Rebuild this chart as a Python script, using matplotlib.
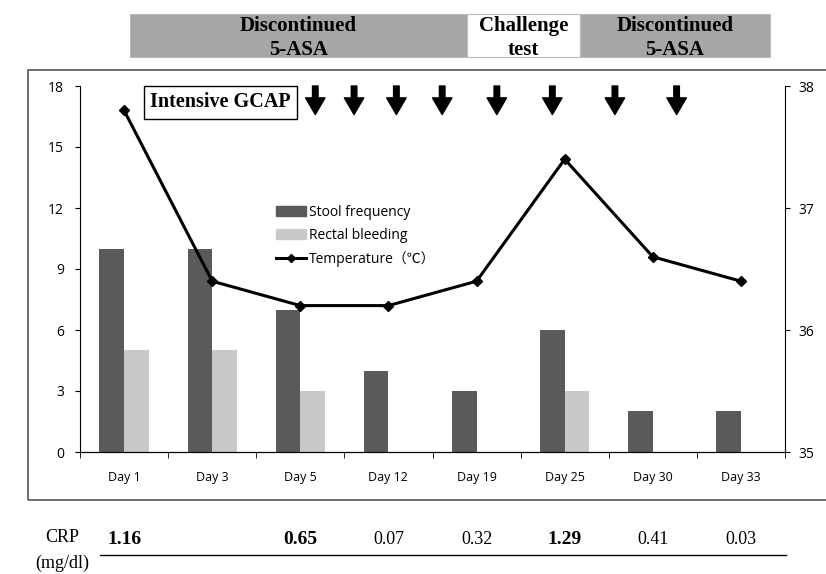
import numpy as np
import matplotlib
matplotlib.use("Agg")
from matplotlib import pyplot as plt
from matplotlib.patches import Rectangle
from matplotlib.lines import Line2D

days = ['Day 1', 'Day 3', 'Day 5', 'Day 12', 'Day 19', 'Day 25', 'Day 30', 'Day 33']
stool = [10, 10, 7, 4, 3, 6, 2, 2]
bleeding = [5, 5, 3, 0, 0, 3, 0, 0]
temperature = [37.8, 36.4, 36.2, 36.2, 36.4, 37.4, 36.6, 36.4]
crp = ['1.16', '', '0.65', '0.07', '0.32', '1.29', '0.41', '0.03']
crp_bold = [True, False, True, False, False, True, False, False]
gcap_sessions = [2.17, 2.61, 3.09, 3.61, 4.23, 4.86, 5.57, 6.27]

SANS = 'Open Sans'
SERIF = 'Liberation Serif'

fig = plt.figure(figsize=(8.26, 5.74), dpi=100)

# outer frame
fig.patches.append(Rectangle((28 / 826, 1 - 500 / 574), 1.0, 430 / 574,
                             transform=fig.transFigure, fill=False,
                             edgecolor='#555555', linewidth=1.2))

ax = fig.add_axes([80 / 826, 1 - 452 / 574, 705 / 826, 366 / 574])
x = np.arange(len(days))
w = 0.28
ax.bar(x - w / 2, stool, w, color='#5a5a5a', label='Stool frequency')
ax.bar(x + w / 2, bleeding, w, color='#c9c9c9', label='Rectal bleeding')
ax.set_xlim(-0.5, len(days) - 0.5)
ax.set_ylim(0, 18)
ax.set_yticks(range(0, 19, 3))
ax.set_xticks(x)
ax.set_xticklabels(days, fontsize=9, family=SANS)
ax.set_xticks(np.arange(-0.5, len(days), 1), minor=True)
ax.tick_params(axis='x', which='major', length=0, pad=14)
ax.tick_params(axis='x', which='minor', length=4)
ax.tick_params(axis='y', labelsize=10, pad=8)
for lab in ax.get_yticklabels():
    lab.set_family(SANS)
ax.spines['top'].set_visible(False)
ax.spines['right'].set_visible(False)

ax2 = ax.twinx()
ax2.plot(x, temperature, color='black', linewidth=2.2, marker='D', markersize=5,
         label='Temperature（℃）')
ax2.set_ylim(35, 38)
ax2.set_yticks([35, 36, 37, 38])
ax2.tick_params(axis='y', labelsize=10, pad=6)
for lab in ax2.get_yticklabels():
    lab.set_family(SANS)
ax2.spines['top'].set_visible(False)
ax2.spines['left'].set_visible(False)

handles = [Rectangle((0, 0), 1, 1, color='#5a5a5a'),
           Rectangle((0, 0), 1, 1, color='#c9c9c9'),
           Line2D([], [], color='black', linewidth=2.2, marker='D', markersize=4)]
ax2.legend(handles, ['Stool frequency', 'Rectal bleeding', 'Temperature（℃）'],
           loc='upper left', bbox_to_anchor=(0.26, 0.71), frameon=False,
           prop={'family': ['Open Sans', 'Noto Sans CJK JP'], 'size': 10},
           handlelength=2.2, handletextpad=0.2, labelspacing=0.6)

# GCAP label and arrows
ax2.text(0.1, 0.955, 'Intensive GCAP', transform=ax2.transAxes, ha='left', va='center',
         fontsize=14.5, fontweight='bold', family=SERIF,
         bbox=dict(boxstyle='square,pad=0.3', facecolor='white', edgecolor='black', linewidth=1))
for s in gcap_sessions:
    ax2.annotate('', xy=(s, 0.922), xytext=(s, 1.0),
                 xycoords=('data', 'axes fraction'), textcoords=('data', 'axes fraction'),
                 arrowprops=dict(width=4, headwidth=14, headlength=12, facecolor='black',
                                 edgecolor='black'))

# treatment bands on top
bands = [(130, 467, '#a6a6a6', 'Discontinued\n5-ASA'),
         (467, 580, 'white', 'Challenge\ntest'),
         (580, 770, '#a6a6a6', 'Discontinued\n5-ASA')]
for x0, x1, col, txt in bands:
    fig.patches.append(Rectangle((x0 / 826, 1 - 57 / 574), (x1 - x0) / 826, 43 / 574,
                                 transform=fig.transFigure, facecolor=col,
                                 edgecolor='#bbbbbb', linewidth=0.8))
    fig.text((x0 + x1) / 2 / 826, 1 - 38 / 574, txt, ha='center', va='center',
             fontsize=15, fontweight='bold', family=SERIF, linespacing=1.3)

# CRP row
fig.text(62 / 826, 1 - 537 / 574, 'CRP', ha='center', va='center', fontsize=13, family=SERIF)
fig.text(62 / 826, 1 - 563 / 574, '(mg/dl)', ha='center', va='center', fontsize=13, family=SERIF)
for i, (val, b) in enumerate(zip(crp, crp_bold)):
    xf = (80 + (i + 0.5) * 705 / len(days)) / 826
    fig.text(xf, 1 - 540 / 574, val, ha='center', va='center',
             fontsize=14 if b else 13, family=SERIF,
             fontweight='bold' if b else 'normal')
fig.lines.append(Line2D([100 / 826, 786 / 826], [1 - 555 / 574, 1 - 555 / 574],
                        transform=fig.transFigure, color='black', linewidth=1))

fig.savefig('out.png', dpi=100)
